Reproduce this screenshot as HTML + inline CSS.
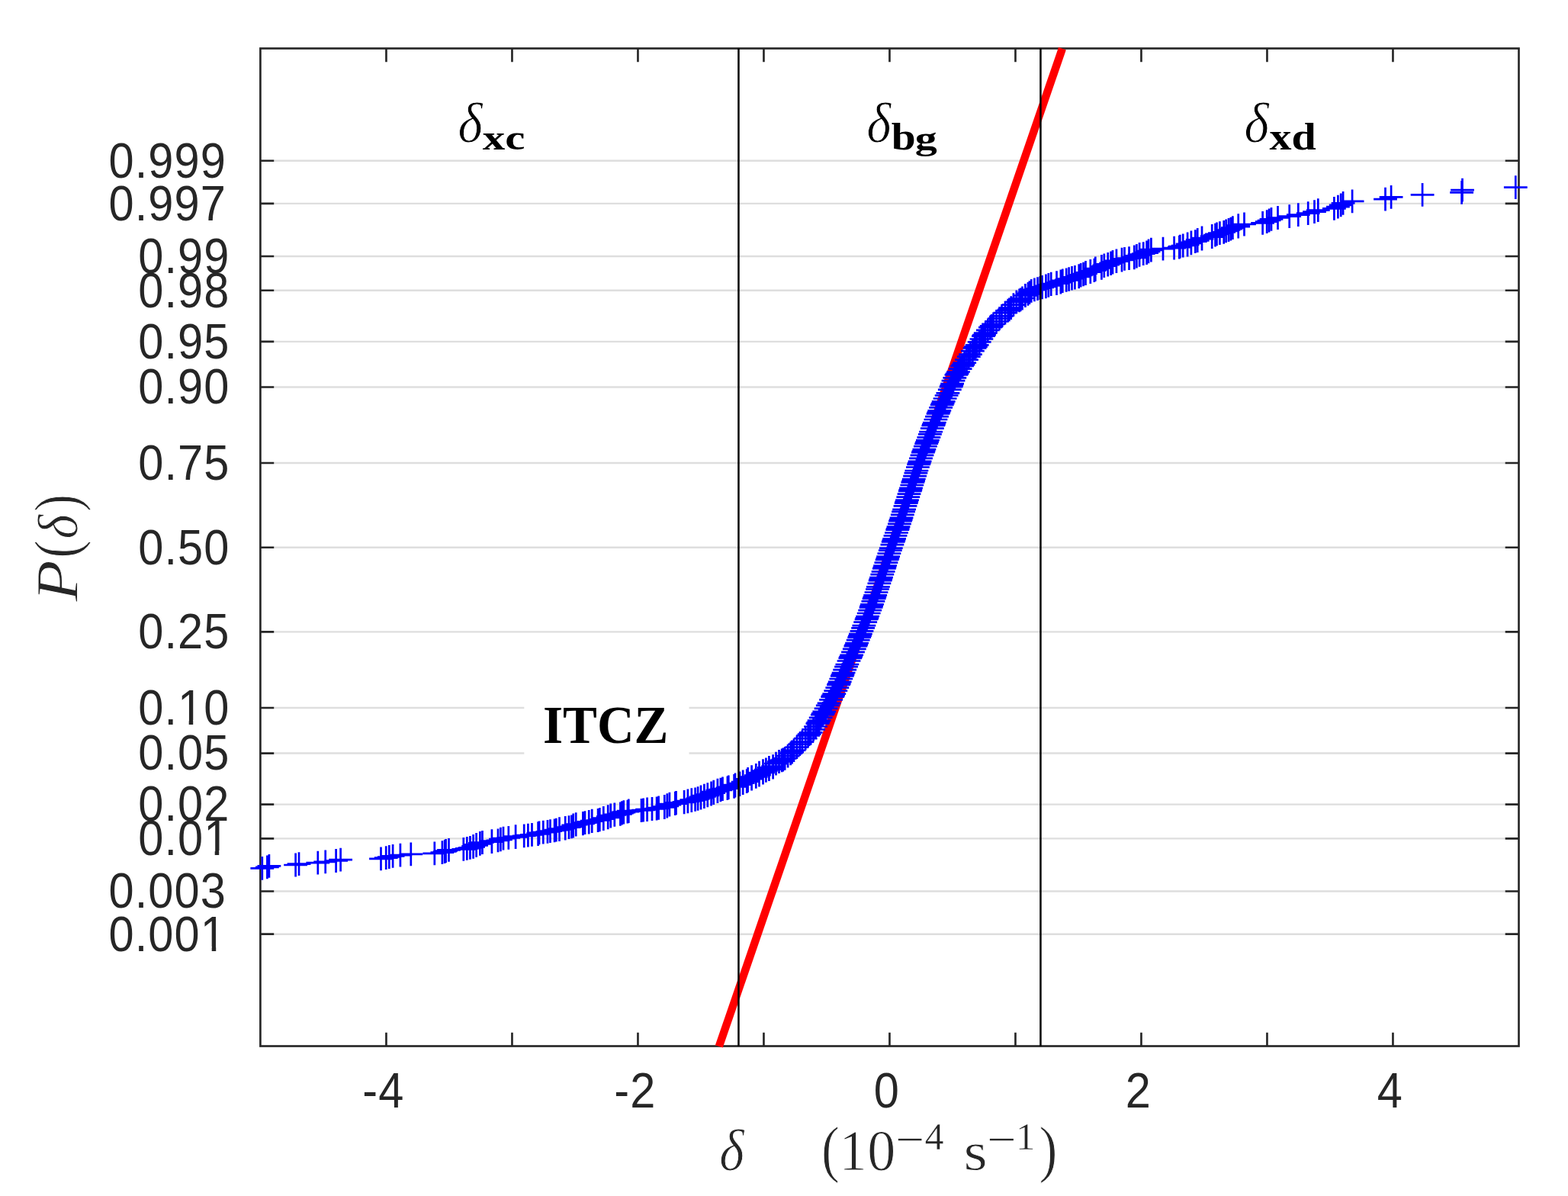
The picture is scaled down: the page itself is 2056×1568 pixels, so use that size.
<!DOCTYPE html>
<html lang="en"><head><meta charset="utf-8"><title>Probability plot</title>
<style>
html,body{margin:0;padding:0;background:#fff;}
body{width:2056px;height:1568px;overflow:hidden;}
svg{display:block;}
.tk{font-family:"Liberation Sans",Arial,Helvetica,sans-serif;font-size:64.00px;fill:#262626;}
.sr{font-family:"Liberation Serif","DejaVu Serif",serif;fill:#000;}
.ax{stroke:#262626;stroke-width:2.65;fill:none;}
.gr{stroke:#dedede;stroke-width:2.40;fill:none;}
</style></head><body>
<svg width="2056" height="1568" viewBox="0 0 2056 1568" role="img" aria-label="Normal probability plot of divergence">
<rect x="0" y="0" width="2056" height="1568" fill="#ffffff"/>
<path class="gr" d="M341.40 1224.68H1991.50M341.40 1168.50H1991.50M341.40 1099.36H1991.50M341.40 1054.64H1991.50M341.40 987.55H1991.50M341.40 927.95H1991.50M341.40 828.36H1991.50M341.40 717.70H1991.50M341.40 607.04H1991.50M341.40 507.45H1991.50M341.40 447.85H1991.50M341.40 380.76H1991.50M341.40 336.04H1991.50M341.40 266.90H1991.50M341.40 210.72H1991.50"/>
<rect x="687.3" y="915.0" width="216.2" height="80.0" fill="#ffffff"/>
<rect class="ax" x="341.40" y="63.50" width="1650.10" height="1308.00"/>
<path class="ax" d="M506.45 1371.50v-17.80M506.45 63.50v17.80M671.45 1371.50v-17.80M671.45 63.50v17.80M836.45 1371.50v-17.80M836.45 63.50v17.80M1001.45 1371.50v-17.80M1001.45 63.50v17.80M1166.45 1371.50v-17.80M1166.45 63.50v17.80M1331.45 1371.50v-17.80M1331.45 63.50v17.80M1496.45 1371.50v-17.80M1496.45 63.50v17.80M1661.45 1371.50v-17.80M1661.45 63.50v17.80M1826.45 1371.50v-17.80M1826.45 63.50v17.80M341.40 1224.68h17.80M1991.50 1224.68h-17.80M341.40 1168.50h17.80M1991.50 1168.50h-17.80M341.40 1099.36h17.80M1991.50 1099.36h-17.80M341.40 1054.64h17.80M1991.50 1054.64h-17.80M341.40 987.55h17.80M1991.50 987.55h-17.80M341.40 927.95h17.80M1991.50 927.95h-17.80M341.40 828.36h17.80M1991.50 828.36h-17.80M341.40 717.70h17.80M1991.50 717.70h-17.80M341.40 607.04h17.80M1991.50 607.04h-17.80M341.40 507.45h17.80M1991.50 507.45h-17.80M341.40 447.85h17.80M1991.50 447.85h-17.80M341.40 380.76h17.80M1991.50 380.76h-17.80M341.40 336.04h17.80M1991.50 336.04h-17.80M341.40 266.90h17.80M1991.50 266.90h-17.80M341.40 210.72h17.80M1991.50 210.72h-17.80"/>
<line x1="942.8" y1="1371.9" x2="1392.9" y2="63.7" stroke="#ff0000" stroke-width="10.4"/>
<path d="M328.4 1138.4h30.8M343.8 1123.0v30.8M335.0 1136.9h30.8M350.4 1121.5v30.8M337.5 1135.4h30.8M352.9 1120.0v30.8M372.2 1134.0h30.8M387.6 1118.6v30.8M376.6 1132.6h30.8M392.0 1117.2v30.8M401.4 1131.2h30.8M416.8 1115.8v30.8M411.3 1129.8h30.8M426.7 1114.4v30.8M425.2 1128.5h30.8M440.6 1113.1v30.8M431.2 1127.2h30.8M446.6 1111.8v30.8M484.1 1125.9h30.8M499.5 1110.5v30.8M490.8 1124.7h30.8M506.2 1109.3v30.8M494.9 1123.5h30.8M510.3 1108.1v30.8M499.7 1122.3h30.8M515.1 1106.9v30.8M509.5 1121.1h30.8M524.9 1105.7v30.8M523.4 1119.9h30.8M538.8 1104.5v30.8M554.4 1118.8h30.8M569.8 1103.4v30.8M564.5 1117.6h30.8M579.9 1102.2v30.8M567.8 1116.5h30.8M583.2 1101.1v30.8M569.2 1115.5h30.8M584.6 1100.1v30.8M573.1 1114.4h30.8M588.5 1099.0v30.8M592.4 1113.3h30.8M607.8 1097.9v30.8M596.9 1112.3h30.8M612.3 1096.9v30.8M601.0 1111.3h30.8M616.4 1095.9v30.8M605.2 1110.3h30.8M620.6 1094.9v30.8M605.2 1109.3h30.8M620.6 1093.9v30.8M609.2 1108.3h30.8M624.6 1092.9v30.8M609.2 1107.3h30.8M624.6 1091.9v30.8M614.0 1106.4h30.8M629.4 1091.0v30.8M614.0 1105.4h30.8M629.4 1090.0v30.8M617.1 1104.5h30.8M632.5 1089.1v30.8M629.5 1103.6h30.8M644.9 1088.2v30.8M629.5 1102.7h30.8M644.9 1087.3v30.8M637.6 1101.8h30.8M653.0 1086.4v30.8M641.0 1100.9h30.8M656.4 1085.5v30.8M641.0 1100.1h30.8M656.4 1084.7v30.8M644.6 1099.2h30.8M660.0 1083.8v30.8M651.4 1098.4h30.8M666.8 1083.0v30.8M660.7 1097.5h30.8M676.1 1082.1v30.8M660.7 1096.7h30.8M676.1 1081.3v30.8M671.8 1095.9h30.8M687.2 1080.5v30.8M677.0 1095.1h30.8M692.4 1079.7v30.8M682.1 1094.3h30.8M697.5 1078.9v30.8M690.2 1093.5h30.8M705.6 1078.1v30.8M690.2 1092.7h30.8M705.6 1077.3v30.8M691.6 1091.9h30.8M707.0 1076.5v30.8M696.9 1091.2h30.8M712.3 1075.8v30.8M702.6 1090.4h30.8M718.0 1075.0v30.8M706.1 1089.7h30.8M721.5 1074.3v30.8M711.7 1088.9h30.8M727.1 1073.5v30.8M713.9 1088.2h30.8M729.3 1072.8v30.8M718.1 1087.5h30.8M733.5 1072.1v30.8M718.1 1086.7h30.8M733.5 1071.3v30.8M725.8 1086.0h30.8M741.2 1070.6v30.8M725.8 1085.3h30.8M741.2 1069.9v30.8M730.6 1084.6h30.8M746.0 1069.2v30.8M734.1 1083.9h30.8M749.5 1068.5v30.8M736.3 1083.2h30.8M751.7 1067.8v30.8M736.3 1082.6h30.8M751.7 1067.2v30.8M736.3 1081.9h30.8M751.7 1066.5v30.8M739.8 1081.2h30.8M755.2 1065.8v30.8M739.8 1080.6h30.8M755.2 1065.2v30.8M749.0 1079.9h30.8M764.4 1064.5v30.8M749.0 1079.3h30.8M764.4 1063.9v30.8M751.6 1078.6h30.8M767.0 1063.2v30.8M756.8 1078.0h30.8M772.2 1062.6v30.8M756.8 1077.3h30.8M772.2 1061.9v30.8M760.8 1076.7h30.8M776.2 1061.3v30.8M760.8 1076.1h30.8M776.2 1060.7v30.8M768.7 1075.5h30.8M784.1 1060.1v30.8M770.9 1074.9h30.8M786.3 1059.5v30.8M770.9 1074.3h30.8M786.3 1058.9v30.8M775.9 1073.7h30.8M791.3 1058.3v30.8M775.9 1073.1h30.8M791.3 1057.7v30.8M775.9 1072.5h30.8M791.3 1057.1v30.8M781.8 1071.9h30.8M797.2 1056.5v30.8M781.8 1071.3h30.8M797.2 1055.9v30.8M781.8 1070.7h30.8M797.2 1055.3v30.8M785.3 1070.1h30.8M800.7 1054.7v30.8M785.3 1069.6h30.8M800.7 1054.2v30.8M785.3 1069.0h30.8M800.7 1053.6v30.8M790.4 1068.4h30.8M805.8 1053.0v30.8M790.4 1067.9h30.8M805.8 1052.5v30.8M798.0 1067.3h30.8M813.4 1051.9v30.8M798.0 1066.8h30.8M813.4 1051.4v30.8M800.1 1066.2h30.8M815.5 1050.8v30.8M800.1 1065.7h30.8M815.5 1050.3v30.8M802.4 1065.1h30.8M817.8 1049.7v30.8M802.4 1064.6h30.8M817.8 1049.2v30.8M807.5 1064.1h30.8M822.9 1048.7v30.8M808.9 1063.5h30.8M824.3 1048.1v30.8M808.9 1063.0h30.8M824.3 1047.6v30.8M825.6 1062.5h30.8M841.0 1047.1v30.8M828.2 1062.0h30.8M843.6 1046.6v30.8M833.2 1061.5h30.8M848.6 1046.1v30.8M833.2 1061.0h30.8M848.6 1045.6v30.8M839.6 1060.5h30.8M855.0 1045.1v30.8M845.7 1060.0h30.8M861.1 1044.6v30.8M848.2 1059.4h30.8M863.6 1044.0v30.8M848.2 1059.0h30.8M863.6 1043.6v30.8M855.9 1058.5h30.8M871.3 1043.1v30.8M855.9 1058.0h30.8M871.3 1042.6v30.8M855.9 1057.5h30.8M871.3 1042.1v30.8M859.4 1057.0h30.8M874.8 1041.6v30.8M859.4 1056.5h30.8M874.8 1041.1v30.8M859.4 1056.0h30.8M874.8 1040.6v30.8M859.4 1055.6h30.8M874.8 1040.2v30.8M862.5 1055.1h30.8M877.9 1039.7v30.8M862.5 1054.6h30.8M877.9 1039.2v30.8M862.5 1054.1h30.8M877.9 1038.7v30.8M869.9 1053.7h30.8M885.3 1038.3v30.8M869.9 1053.2h30.8M885.3 1037.8v30.8M871.1 1052.8h30.8M886.5 1037.4v30.8M871.1 1052.3h30.8M886.5 1036.9v30.8M881.7 1051.8h30.8M897.1 1036.4v30.8M881.7 1051.4h30.8M897.1 1036.0v30.8M886.5 1050.9h30.8M901.9 1035.5v30.8M886.5 1050.5h30.8M901.9 1035.1v30.8M886.5 1050.0h30.8M901.9 1034.6v30.8M891.4 1049.6h30.8M906.8 1034.2v30.8M891.4 1049.2h30.8M906.8 1033.8v30.8M891.4 1048.7h30.8M906.8 1033.3v30.8M896.2 1048.3h30.8M911.6 1032.9v30.8M896.2 1047.9h30.8M911.6 1032.5v30.8M899.7 1047.4h30.8M915.1 1032.0v30.8M899.7 1047.0h30.8M915.1 1031.6v30.8M899.7 1046.6h30.8M915.1 1031.2v30.8M903.6 1046.1h30.8M919.0 1030.7v30.8M903.6 1045.7h30.8M919.0 1030.3v30.8M903.6 1045.3h30.8M919.0 1029.9v30.8M903.6 1044.9h30.8M919.0 1029.5v30.8M908.0 1044.5h30.8M923.4 1029.1v30.8M908.0 1044.1h30.8M923.4 1028.7v30.8M908.0 1043.6h30.8M923.4 1028.2v30.8M908.0 1043.2h30.8M923.4 1027.8v30.8M912.4 1042.8h30.8M927.8 1027.4v30.8M912.4 1042.4h30.8M927.8 1027.0v30.8M912.4 1042.0h30.8M927.8 1026.6v30.8M912.4 1041.6h30.8M927.8 1026.2v30.8M917.2 1041.2h30.8M932.6 1025.8v30.8M917.2 1040.8h30.8M932.6 1025.4v30.8M917.2 1040.4h30.8M932.6 1025.0v30.8M917.2 1040.0h30.8M932.6 1024.6v30.8M920.3 1039.6h30.8M935.7 1024.2v30.8M920.3 1039.2h30.8M935.7 1023.8v30.8M920.3 1038.9h30.8M935.7 1023.5v30.8M920.3 1038.5h30.8M935.7 1023.1v30.8M920.3 1038.1h30.8M935.7 1022.7v30.8M925.5 1037.7h30.8M940.9 1022.3v30.8M925.5 1037.3h30.8M940.9 1021.9v30.8M925.5 1036.9h30.8M940.9 1021.5v30.8M925.5 1036.6h30.8M940.9 1021.2v30.8M925.5 1036.2h30.8M940.9 1020.8v30.8M929.5 1035.8h30.8M944.9 1020.4v30.8M929.5 1035.4h30.8M944.9 1020.0v30.8M929.5 1035.1h30.8M944.9 1019.7v30.8M932.1 1034.7h30.8M947.5 1019.3v30.8M932.1 1034.3h30.8M947.5 1018.9v30.8M932.1 1034.0h30.8M947.5 1018.6v30.8M938.5 1033.6h30.8M953.9 1018.2v30.8M938.5 1033.2h30.8M953.9 1017.8v30.8M938.5 1032.9h30.8M953.9 1017.5v30.8M939.9 1032.5h30.8M955.3 1017.1v30.8M939.9 1032.2h30.8M955.3 1016.8v30.8M939.9 1031.8h30.8M955.3 1016.4v30.8M947.2 1031.4h30.8M962.6 1016.0v30.8M947.2 1031.1h30.8M962.6 1015.7v30.8M947.2 1030.7h30.8M962.6 1015.3v30.8M947.2 1030.4h30.8M962.6 1015.0v30.8M948.6 1030.0h30.8M964.0 1014.6v30.8M948.6 1029.7h30.8M964.0 1014.3v30.8M948.6 1029.3h30.8M964.0 1013.9v30.8M948.6 1029.0h30.8M964.0 1013.6v30.8M954.6 1028.7h30.8M970.0 1013.3v30.8M954.6 1028.3h30.8M970.0 1012.9v30.8M954.6 1028.0h30.8M970.0 1012.6v30.8M954.6 1027.6h30.8M970.0 1012.2v30.8M954.6 1027.3h30.8M970.0 1011.9v30.8M954.6 1027.0h30.8M970.0 1011.6v30.8M958.8 1026.6h30.8M974.2 1011.2v30.8M958.8 1026.3h30.8M974.2 1010.9v30.8M958.8 1025.9h30.8M974.2 1010.5v30.8M958.8 1025.6h30.8M974.2 1010.2v30.8M958.8 1025.3h30.8M974.2 1009.9v30.8M958.8 1025.0h30.8M974.2 1009.6v30.8M963.8 1024.6h30.8M979.2 1009.2v30.8M963.8 1024.3h30.8M979.2 1008.9v30.8M963.8 1024.0h30.8M979.2 1008.6v30.8M963.8 1023.6h30.8M979.2 1008.2v30.8M965.2 1023.3h30.8M980.6 1007.9v30.8M965.2 1023.0h30.8M980.6 1007.6v30.8M965.2 1022.7h30.8M980.6 1007.3v30.8M965.2 1022.4h30.8M980.6 1007.0v30.8M965.2 1022.0h30.8M980.6 1006.6v30.8M965.2 1021.7h30.8M980.6 1006.3v30.8M965.2 1021.4h30.8M980.6 1006.0v30.8M970.2 1021.1h30.8M985.6 1005.7v30.8M970.2 1020.8h30.8M985.6 1005.4v30.8M970.2 1020.5h30.8M985.6 1005.1v30.8M970.2 1020.1h30.8M985.6 1004.7v30.8M970.2 1019.8h30.8M985.6 1004.4v30.8M970.2 1019.5h30.8M985.6 1004.1v30.8M970.2 1019.2h30.8M985.6 1003.8v30.8M970.2 1018.9h30.8M985.6 1003.5v30.8M970.2 1018.6h30.8M985.6 1003.2v30.8M975.9 1018.3h30.8M991.3 1002.9v30.8M975.9 1018.0h30.8M991.3 1002.6v30.8M975.9 1017.7h30.8M991.3 1002.3v30.8M975.9 1017.4h30.8M991.3 1002.0v30.8M975.9 1017.1h30.8M991.3 1001.7v30.8M975.9 1016.8h30.8M991.3 1001.4v30.8M975.9 1016.5h30.8M991.3 1001.1v30.8M980.1 1016.2h30.8M995.5 1000.8v30.8M980.1 1015.9h30.8M995.5 1000.5v30.8M980.1 1015.6h30.8M995.5 1000.2v30.8M980.1 1015.3h30.8M995.5 999.9v30.8M980.1 1015.0h30.8M995.5 999.6v30.8M980.1 1014.7h30.8M995.5 999.3v30.8M980.1 1014.4h30.8M995.5 999.0v30.8M980.1 1014.1h30.8M995.5 998.7v30.8M980.1 1013.8h30.8M995.5 998.4v30.8M980.1 1013.5h30.8M995.5 998.1v30.8M980.1 1013.2h30.8M995.5 997.8v30.8M985.1 1013.0h30.8M1000.5 997.6v30.8M985.1 1012.7h30.8M1000.5 997.3v30.8M985.1 1012.4h30.8M1000.5 997.0v30.8M985.1 1012.1h30.8M1000.5 996.7v30.8M985.1 1011.8h30.8M1000.5 996.4v30.8M985.1 1011.5h30.8M1000.5 996.1v30.8M985.1 1011.2h30.8M1000.5 995.8v30.8M985.1 1011.0h30.8M1000.5 995.6v30.8M985.1 1010.7h30.8M1000.5 995.3v30.8M989.0 1010.4h30.8M1004.4 995.0v30.8M989.0 1010.1h30.8M1004.4 994.7v30.8M989.0 1009.8h30.8M1004.4 994.4v30.8M989.0 1009.6h30.8M1004.4 994.2v30.8M989.0 1009.3h30.8M1004.4 993.9v30.8M989.0 1009.0h30.8M1004.4 993.6v30.8M993.0 1008.7h30.8M1008.4 993.3v30.8M993.0 1008.5h30.8M1008.4 993.1v30.8M993.0 1008.2h30.8M1008.4 992.8v30.8M993.0 1007.9h30.8M1008.4 992.5v30.8M993.0 1007.6h30.8M1008.4 992.2v30.8M993.0 1007.4h30.8M1008.4 992.0v30.8M993.0 1007.1h30.8M1008.4 991.7v30.8M993.0 1006.8h30.8M1008.4 991.4v30.8M993.0 1006.6h30.8M1008.4 991.2v30.8M993.0 1006.3h30.8M1008.4 990.9v30.8M998.2 1006.0h30.8M1013.6 990.6v30.8M998.2 1005.8h30.8M1013.6 990.4v30.8M998.2 1005.5h30.8M1013.6 990.1v30.8M998.2 1005.2h30.8M1013.6 989.8v30.8M998.2 1005.0h30.8M1013.6 989.6v30.8M998.2 1004.7h30.8M1013.6 989.3v30.8M1002.1 1001.1h30.8M1017.5 985.7v30.8M1006.1 998.5h30.8M1021.5 983.1v30.8M1009.8 996.8h30.8M1025.2 981.4v30.8M1011.4 996.0h30.8M1026.8 980.6v30.8M1013.8 994.4h30.8M1029.2 979.0v30.8M1017.7 991.2h30.8M1033.1 975.8v30.8M1021.3 987.9h30.8M1036.7 972.5v30.8M1023.2 986.0h30.8M1038.6 970.6v30.8M1025.6 983.6h30.8M1041.0 968.2v30.8M1029.5 979.7h30.8M1044.9 964.3v30.8M1033.4 975.7h30.8M1048.8 960.3v30.8M1036.5 972.6h30.8M1051.9 957.2v30.8M1040.8 968.1h30.8M1056.2 952.7v30.8M1044.2 964.4h30.8M1059.6 949.0v30.8M1045.7 962.7h30.8M1061.1 947.3v30.8M1047.8 960.4h30.8M1063.2 945.0v30.8M1051.2 956.4h30.8M1066.6 941.0v30.8M1054.1 952.5h30.8M1069.5 937.1v30.8M1056.5 948.7h30.8M1071.9 933.3v30.8M1057.4 947.1h30.8M1072.8 931.7v30.8M1058.7 944.7h30.8M1074.1 929.3v30.8M1060.8 940.8h30.8M1076.2 925.4v30.8M1062.9 937.2h30.8M1078.3 921.8v30.8M1064.0 935.3h30.8M1079.4 919.9v30.8M1065.4 932.8h30.8M1080.8 917.4v30.8M1067.7 928.9h30.8M1083.1 913.5v30.8M1069.9 924.9h30.8M1085.3 909.5v30.8M1071.7 921.8h30.8M1087.1 906.4v30.8M1074.2 917.3h30.8M1089.6 901.9v30.8M1076.3 913.6h30.8M1091.7 898.2v30.8M1077.1 911.9h30.8M1092.5 896.5v30.8M1078.4 909.6h30.8M1093.8 894.2v30.8M1080.4 905.6h30.8M1095.8 890.2v30.8M1082.4 901.7h30.8M1097.8 886.3v30.8M1084.1 897.9h30.8M1099.5 882.5v30.8M1084.8 896.3h30.8M1100.2 880.9v30.8M1085.8 893.9h30.8M1101.2 878.5v30.8M1087.4 890.0h30.8M1102.8 874.6v30.8M1088.9 886.4h30.8M1104.3 871.0v30.8M1089.6 884.5h30.8M1105.0 869.1v30.8M1090.7 882.0h30.8M1106.1 866.6v30.8M1092.3 878.1h30.8M1107.7 862.7v30.8M1094.1 874.1h30.8M1109.5 858.7v30.8M1095.5 871.0h30.8M1110.9 855.6v30.8M1097.6 866.5h30.8M1113.0 851.1v30.8M1099.4 862.8h30.8M1114.8 847.4v30.8M1100.2 861.1h30.8M1115.6 845.7v30.8M1101.3 858.8h30.8M1116.7 843.4v30.8M1103.1 854.8h30.8M1118.5 839.4v30.8M1104.9 850.9h30.8M1120.3 835.5v30.8M1106.5 847.1h30.8M1121.9 831.7v30.8M1107.2 845.5h30.8M1122.6 830.1v30.8M1108.2 843.1h30.8M1123.6 827.7v30.8M1109.8 839.2h30.8M1125.2 823.8v30.8M1111.3 835.6h30.8M1126.7 820.2v30.8M1112.1 833.7h30.8M1127.5 818.3v30.8M1113.0 831.2h30.8M1128.4 815.8v30.8M1114.6 827.3h30.8M1130.0 811.9v30.8M1116.2 823.3h30.8M1131.6 807.9v30.8M1117.5 820.2h30.8M1132.9 804.8v30.8M1119.3 815.7h30.8M1134.7 800.3v30.8M1120.7 812.0h30.8M1136.1 796.6v30.8M1121.4 810.3h30.8M1136.8 794.9v30.8M1122.3 808.0h30.8M1137.7 792.6v30.8M1123.8 804.0h30.8M1139.2 788.6v30.8M1125.3 800.1h30.8M1140.7 784.7v30.8M1126.7 796.3h30.8M1142.1 780.9v30.8M1127.2 794.7h30.8M1142.6 779.3v30.8M1128.1 792.3h30.8M1143.5 776.9v30.8M1129.5 788.4h30.8M1144.9 773.0v30.8M1130.7 784.8h30.8M1146.1 769.4v30.8M1131.4 782.9h30.8M1146.8 767.5v30.8M1132.3 780.4h30.8M1147.7 765.0v30.8M1133.6 776.5h30.8M1149.0 761.1v30.8M1135.0 772.5h30.8M1150.4 757.1v30.8M1136.0 769.4h30.8M1151.4 754.0v30.8M1137.5 764.9h30.8M1152.9 749.5v30.8M1138.8 761.2h30.8M1154.2 745.8v30.8M1139.3 759.5h30.8M1154.7 744.1v30.8M1140.1 757.2h30.8M1155.5 741.8v30.8M1141.4 753.2h30.8M1156.8 737.8v30.8M1142.7 749.3h30.8M1158.1 733.9v30.8M1143.9 745.5h30.8M1159.3 730.1v30.8M1144.5 743.9h30.8M1159.9 728.5v30.8M1145.2 741.5h30.8M1160.6 726.1v30.8M1146.5 737.6h30.8M1161.9 722.2v30.8M1147.7 734.0h30.8M1163.1 718.6v30.8M1148.4 732.1h30.8M1163.8 716.7v30.8M1149.2 729.6h30.8M1164.6 714.2v30.8M1150.5 725.7h30.8M1165.9 710.3v30.8M1151.9 721.7h30.8M1167.3 706.3v30.8M1152.9 718.6h30.8M1168.3 703.2v30.8M1154.5 714.1h30.8M1169.9 698.7v30.8M1155.8 710.4h30.8M1171.2 695.0v30.8M1156.4 708.7h30.8M1171.8 693.3v30.8M1157.2 706.4h30.8M1172.6 691.0v30.8M1158.6 702.4h30.8M1174.0 687.0v30.8M1160.0 698.5h30.8M1175.4 683.1v30.8M1161.3 694.7h30.8M1176.7 679.3v30.8M1161.8 693.1h30.8M1177.2 677.7v30.8M1162.6 690.7h30.8M1178.0 675.3v30.8M1164.0 686.8h30.8M1179.4 671.4v30.8M1165.1 683.2h30.8M1180.5 667.8v30.8M1165.8 681.3h30.8M1181.2 665.9v30.8M1166.6 678.8h30.8M1182.0 663.4v30.8M1167.9 674.9h30.8M1183.3 659.5v30.8M1169.1 670.9h30.8M1184.5 655.5v30.8M1170.2 667.8h30.8M1185.6 652.4v30.8M1171.6 663.3h30.8M1187.0 647.9v30.8M1172.8 659.6h30.8M1188.2 644.2v30.8M1173.3 657.9h30.8M1188.7 642.5v30.8M1174.1 655.6h30.8M1189.5 640.2v30.8M1175.4 651.6h30.8M1190.8 636.2v30.8M1176.6 647.7h30.8M1192.0 632.3v30.8M1177.9 643.9h30.8M1193.3 628.5v30.8M1178.4 642.3h30.8M1193.8 626.9v30.8M1179.1 639.9h30.8M1194.5 624.5v30.8M1180.4 636.0h30.8M1195.8 620.6v30.8M1181.5 632.4h30.8M1196.9 617.0v30.8M1182.2 630.5h30.8M1197.6 615.1v30.8M1182.9 628.0h30.8M1198.3 612.6v30.8M1184.2 624.1h30.8M1199.6 608.7v30.8M1185.5 620.1h30.8M1200.9 604.7v30.8M1186.5 617.0h30.8M1201.9 601.6v30.8M1188.0 612.5h30.8M1203.4 597.1v30.8M1189.3 608.8h30.8M1204.7 593.4v30.8M1189.9 607.1h30.8M1205.3 591.7v30.8M1190.7 604.8h30.8M1206.1 589.4v30.8M1192.1 600.8h30.8M1207.5 585.4v30.8M1193.6 596.9h30.8M1209.0 581.5v30.8M1195.0 593.1h30.8M1210.4 577.7v30.8M1195.6 591.5h30.8M1211.0 576.1v30.8M1196.5 589.1h30.8M1211.9 573.7v30.8M1198.0 585.2h30.8M1213.4 569.8v30.8M1199.3 581.6h30.8M1214.7 566.2v30.8M1200.1 579.7h30.8M1215.5 564.3v30.8M1201.0 577.2h30.8M1216.4 561.8v30.8M1202.5 573.3h30.8M1217.9 557.9v30.8M1204.0 569.3h30.8M1219.4 553.9v30.8M1205.2 566.2h30.8M1220.6 550.8v30.8M1206.9 561.7h30.8M1222.3 546.3v30.8M1208.4 558.0h30.8M1223.8 542.6v30.8M1209.0 556.3h30.8M1224.4 540.9v30.8M1209.9 554.0h30.8M1225.3 538.6v30.8M1211.5 550.0h30.8M1226.9 534.6v30.8M1213.1 546.1h30.8M1228.5 530.7v30.8M1214.7 542.3h30.8M1230.1 526.9v30.8M1215.4 540.7h30.8M1230.8 525.3v30.8M1216.4 538.3h30.8M1231.8 522.9v30.8M1218.2 534.4h30.8M1233.6 519.0v30.8M1219.8 530.8h30.8M1235.2 515.4v30.8M1220.7 528.9h30.8M1236.1 513.5v30.8M1221.8 526.4h30.8M1237.2 511.0v30.8M1223.7 522.5h30.8M1239.1 507.1v30.8M1225.7 518.5h30.8M1241.1 503.1v30.8M1227.5 515.4h30.8M1242.9 500.0v30.8M1229.9 510.9h30.8M1245.3 495.5v30.8M1231.7 507.2h30.8M1247.1 491.8v30.8M1232.3 505.5h30.8M1247.7 490.1v30.8M1233.2 503.2h30.8M1248.6 487.8v30.8M1234.6 499.2h30.8M1250.0 483.8v30.8M1236.4 495.3h30.8M1251.8 479.9v30.8M1238.5 491.5h30.8M1253.9 476.1v30.8M1239.6 489.9h30.8M1255.0 474.5v30.8M1241.1 487.5h30.8M1256.5 472.1v30.8M1243.7 483.6h30.8M1259.1 468.2v30.8M1246.1 480.0h30.8M1261.5 464.6v30.8M1247.5 478.1h30.8M1262.9 462.7v30.8M1249.3 475.6h30.8M1264.7 460.2v30.8M1252.1 471.7h30.8M1267.5 456.3v30.8M1254.9 467.7h30.8M1270.3 452.3v30.8M1257.0 464.6h30.8M1272.4 449.2v30.8M1260.0 460.1h30.8M1275.4 444.7v30.8M1262.7 456.4h30.8M1278.1 441.0v30.8M1264.0 454.7h30.8M1279.4 439.3v30.8M1265.8 452.4h30.8M1281.2 437.0v30.8M1268.8 448.4h30.8M1284.2 433.0v30.8M1271.5 444.5h30.8M1286.9 429.1v30.8M1274.0 440.7h30.8M1289.4 425.3v30.8M1275.1 439.1h30.8M1290.5 423.7v30.8M1276.8 436.7h30.8M1292.2 421.3v30.8M1279.9 432.8h30.8M1295.3 417.4v30.8M1283.0 429.2h30.8M1298.4 413.8v30.8M1284.8 427.3h30.8M1300.2 411.9v30.8M1287.2 424.9h30.8M1302.6 409.5v30.8M1291.1 421.3h30.8M1306.5 405.9v30.8M1295.1 417.6h30.8M1310.5 402.2v30.8M1298.1 414.4h30.8M1313.5 399.0v30.8M1302.6 410.2h30.8M1318.0 394.8v30.8M1306.3 407.2h30.8M1321.7 391.8v30.8M1308.0 405.8h30.8M1323.4 390.4v30.8M1310.3 403.6h30.8M1325.7 388.2v30.8M1313.5 399.6h30.8M1328.9 384.2v30.8M1317.4 395.9h30.8M1332.8 380.5v30.8M1321.2 393.8h30.8M1336.6 378.4v30.8M1322.8 392.8h30.8M1338.2 377.4v30.8M1325.1 391.0h30.8M1340.5 375.6v30.8M1329.0 387.5h30.8M1344.4 372.1v30.8M1332.6 385.3h30.8M1348.0 369.9v30.8M1334.5 383.6h30.8M1349.9 368.2v30.8M1336.9 381.4h30.8M1352.3 366.0v30.8M1341.0 379.8h30.8M1356.4 364.4v30.8M1345.1 378.6h30.8M1360.5 363.2v30.8M1348.3 377.7h30.8M1363.7 362.3v30.8M1971.9 245.6h30.8M1987.3 230.2v30.8M1902.1 249.1h30.8M1917.5 233.7v30.8M1901.2 252.3h30.8M1916.6 236.9v30.8M1849.7 255.4h30.8M1865.1 240.0v30.8M1808.7 258.3h30.8M1824.1 242.9v30.8M1801.1 261.1h30.8M1816.5 245.7v30.8M1757.7 263.8h30.8M1773.1 248.4v30.8M1745.7 266.4h30.8M1761.1 251.0v30.8M1742.8 268.8h30.8M1758.2 253.4v30.8M1739.0 271.2h30.8M1754.4 255.8v30.8M1734.0 273.4h30.8M1749.4 258.0v30.8M1712.9 275.6h30.8M1728.3 260.2v30.8M1708.1 277.7h30.8M1723.5 262.3v30.8M1699.8 279.7h30.8M1715.2 264.3v30.8M1686.9 281.7h30.8M1702.3 266.3v30.8M1675.3 283.6h30.8M1690.7 268.2v30.8M1660.1 285.5h30.8M1675.5 270.1v30.8M1651.6 287.3h30.8M1667.0 271.9v30.8M1648.7 289.0h30.8M1664.1 273.6v30.8M1645.8 290.7h30.8M1661.2 275.3v30.8M1640.2 292.4h30.8M1655.6 277.0v30.8M1616.1 294.0h30.8M1631.5 278.6v30.8M1608.3 295.6h30.8M1623.7 280.2v30.8M1608.3 297.1h30.8M1623.7 281.7v30.8M1601.0 298.6h30.8M1616.4 283.2v30.8M1598.5 300.1h30.8M1613.9 284.7v30.8M1595.6 301.5h30.8M1611.0 286.1v30.8M1592.2 302.9h30.8M1607.6 287.5v30.8M1589.3 304.3h30.8M1604.7 288.9v30.8M1584.0 305.6h30.8M1599.4 290.2v30.8M1580.1 306.9h30.8M1595.5 291.5v30.8M1578.1 308.2h30.8M1593.5 292.8v30.8M1573.8 309.5h30.8M1589.2 294.1v30.8M1573.8 310.7h30.8M1589.2 295.3v30.8M1560.6 312.0h30.8M1576.0 296.6v30.8M1560.6 313.2h30.8M1576.0 297.8v30.8M1554.8 314.3h30.8M1570.2 298.9v30.8M1554.8 315.5h30.8M1570.2 300.1v30.8M1551.9 316.6h30.8M1567.3 301.2v30.8M1546.5 317.8h30.8M1561.9 302.4v30.8M1546.5 318.9h30.8M1561.9 303.5v30.8M1541.7 319.9h30.8M1557.1 304.5v30.8M1541.7 321.0h30.8M1557.1 305.6v30.8M1535.8 322.0h30.8M1551.2 306.6v30.8M1531.9 323.1h30.8M1547.3 307.7v30.8M1530.9 324.1h30.8M1546.3 308.7v30.8M1524.2 325.1h30.8M1539.6 309.7v30.8M1509.6 326.1h30.8M1525.0 310.7v30.8M1494.0 327.1h30.8M1509.4 311.7v30.8M1494.0 328.0h30.8M1509.4 312.6v30.8M1490.6 329.0h30.8M1506.0 313.6v30.8M1490.6 329.9h30.8M1506.0 314.5v30.8M1488.2 330.8h30.8M1503.6 315.4v30.8M1488.2 331.7h30.8M1503.6 316.3v30.8M1483.8 332.6h30.8M1499.2 317.2v30.8M1478.7 333.5h30.8M1494.1 318.1v30.8M1478.7 334.4h30.8M1494.1 319.0v30.8M1475.0 335.3h30.8M1490.4 319.9v30.8M1475.0 336.1h30.8M1490.4 320.7v30.8M1471.9 337.0h30.8M1487.3 321.6v30.8M1471.9 337.8h30.8M1487.3 322.4v30.8M1465.1 338.6h30.8M1480.5 323.2v30.8M1459.1 339.4h30.8M1474.5 324.0v30.8M1455.6 340.2h30.8M1471.0 324.8v30.8M1455.6 341.0h30.8M1471.0 325.6v30.8M1448.5 341.8h30.8M1463.9 326.4v30.8M1448.5 342.6h30.8M1463.9 327.2v30.8M1443.6 343.4h30.8M1459.0 328.0v30.8M1443.6 344.1h30.8M1459.0 328.7v30.8M1441.2 344.9h30.8M1456.6 329.5v30.8M1441.2 345.6h30.8M1456.6 330.2v30.8M1437.3 346.4h30.8M1452.7 331.0v30.8M1437.3 347.1h30.8M1452.7 331.7v30.8M1432.4 347.8h30.8M1447.8 332.4v30.8M1432.4 348.6h30.8M1447.8 333.2v30.8M1429.0 349.3h30.8M1444.4 333.9v30.8M1429.0 350.0h30.8M1444.4 334.6v30.8M1429.0 350.7h30.8M1444.4 335.3v30.8M1429.0 351.4h30.8M1444.4 336.0v30.8M1420.9 352.0h30.8M1436.3 336.6v30.8M1420.9 352.7h30.8M1436.3 337.3v30.8M1420.9 353.4h30.8M1436.3 338.0v30.8M1419.5 354.1h30.8M1434.9 338.7v30.8M1419.5 354.7h30.8M1434.9 339.3v30.8M1414.4 355.4h30.8M1429.8 340.0v30.8M1414.4 356.0h30.8M1429.8 340.6v30.8M1414.4 356.7h30.8M1429.8 341.3v30.8M1408.1 357.3h30.8M1423.5 341.9v30.8M1408.1 357.9h30.8M1423.5 342.5v30.8M1408.1 358.6h30.8M1423.5 343.2v30.8M1405.2 359.2h30.8M1420.6 343.8v30.8M1405.2 359.8h30.8M1420.6 344.4v30.8M1401.8 360.4h30.8M1417.2 345.0v30.8M1401.8 361.0h30.8M1417.2 345.6v30.8M1399.3 361.6h30.8M1414.7 346.2v30.8M1399.3 362.2h30.8M1414.7 346.8v30.8M1399.3 362.8h30.8M1414.7 347.4v30.8M1394.0 363.4h30.8M1409.4 348.0v30.8M1394.0 364.0h30.8M1409.4 348.6v30.8M1390.1 364.5h30.8M1405.5 349.1v30.8M1390.1 365.1h30.8M1405.5 349.7v30.8M1386.2 365.7h30.8M1401.6 350.3v30.8M1386.2 366.3h30.8M1401.6 350.9v30.8M1382.8 366.8h30.8M1398.2 351.4v30.8M1382.8 367.4h30.8M1398.2 352.0v30.8M1377.9 367.9h30.8M1393.3 352.5v30.8M1377.9 368.5h30.8M1393.3 353.1v30.8M1375.5 369.0h30.8M1390.9 353.6v30.8M1375.5 369.6h30.8M1390.9 354.2v30.8M1375.5 370.1h30.8M1390.9 354.7v30.8M1370.1 370.6h30.8M1385.5 355.2v30.8M1370.1 371.2h30.8M1385.5 355.8v30.8M1370.1 371.7h30.8M1385.5 356.3v30.8M1362.8 372.2h30.8M1378.2 356.8v30.8M1362.8 372.7h30.8M1378.2 357.3v30.8M1359.4 373.3h30.8M1374.8 357.9v30.8M1359.4 373.8h30.8M1374.8 358.4v30.8M1359.4 374.3h30.8M1374.8 358.9v30.8M1356.0 374.8h30.8M1371.4 359.4v30.8M1356.0 375.3h30.8M1371.4 359.9v30.8M1356.0 375.8h30.8M1371.4 360.4v30.8M1351.2 376.3h30.8M1366.6 360.9v30.8M1351.2 376.8h30.8M1366.6 361.4v30.8" stroke="#0000ff" stroke-width="2.7" fill="none"/>
<path d="M968.45 63.50V1371.50M1364.45 63.50V1371.50" stroke="#000" stroke-width="2.50" fill="none"/>
<text class="tk" transform="translate(297.00 1246.53) scale(0.9300 1)" text-anchor="end" letter-spacing="1.20">0.001</text>
<text class="tk" transform="translate(297.00 1190.35) scale(0.9300 1)" text-anchor="end" letter-spacing="1.20">0.003</text>
<text class="tk" transform="translate(301.50 1121.21) scale(0.9300 1)" text-anchor="end" letter-spacing="1.20">0.01</text>
<text class="tk" transform="translate(301.50 1076.49) scale(0.9300 1)" text-anchor="end" letter-spacing="1.20">0.02</text>
<text class="tk" transform="translate(301.50 1009.40) scale(0.9300 1)" text-anchor="end" letter-spacing="1.20">0.05</text>
<text class="tk" transform="translate(301.50 949.80) scale(0.9300 1)" text-anchor="end" letter-spacing="1.20">0.10</text>
<text class="tk" transform="translate(301.50 850.21) scale(0.9300 1)" text-anchor="end" letter-spacing="1.20">0.25</text>
<text class="tk" transform="translate(301.50 739.55) scale(0.9300 1)" text-anchor="end" letter-spacing="1.20">0.50</text>
<text class="tk" transform="translate(301.50 628.89) scale(0.9300 1)" text-anchor="end" letter-spacing="1.20">0.75</text>
<text class="tk" transform="translate(301.50 529.30) scale(0.9300 1)" text-anchor="end" letter-spacing="1.20">0.90</text>
<text class="tk" transform="translate(301.50 469.70) scale(0.9300 1)" text-anchor="end" letter-spacing="1.20">0.95</text>
<text class="tk" transform="translate(301.50 402.61) scale(0.9300 1)" text-anchor="end" letter-spacing="1.20">0.98</text>
<text class="tk" transform="translate(301.50 357.89) scale(0.9300 1)" text-anchor="end" letter-spacing="1.20">0.99</text>
<text class="tk" transform="translate(297.00 288.75) scale(0.9300 1)" text-anchor="end" letter-spacing="1.20">0.997</text>
<text class="tk" transform="translate(297.00 232.57) scale(0.9300 1)" text-anchor="end" letter-spacing="1.20">0.999</text>
<text class="tk" transform="translate(502.85 1452.10) scale(0.9300 1)" text-anchor="middle" letter-spacing="1.20">-4</text>
<text class="tk" transform="translate(832.85 1452.10) scale(0.9300 1)" text-anchor="middle" letter-spacing="1.20">-2</text>
<text class="tk" transform="translate(1162.85 1452.10) scale(0.9300 1)" text-anchor="middle" letter-spacing="1.20">0</text>
<text class="tk" transform="translate(1492.85 1452.10) scale(0.9300 1)" text-anchor="middle" letter-spacing="1.20">2</text>
<text class="tk" transform="translate(1822.85 1452.10) scale(0.9300 1)" text-anchor="middle" letter-spacing="1.20">4</text>
<rect x="236.5" y="944.0" width="11.2" height="7.3" fill="#fff"/>
<rect x="253.2" y="944.0" width="11.2" height="7.3" fill="#fff"/>
<rect x="270.5" y="1115.0" width="11.2" height="7.7" fill="#fff"/>
<rect x="287.2" y="1115.0" width="11.2" height="7.7" fill="#fff"/>
<rect x="265.5" y="1241.0" width="12.2" height="7.0" fill="#fff"/>
<rect x="283.2" y="1241.0" width="11.2" height="7.0" fill="#fff"/>
<g>
<text class="sr" transform="translate(600.48 186.03) scale(0.9284 1.0000)" style="font-size:74.53px;font-style:italic;" stroke="#fff" stroke-width="0.89">δ</text>
<text class="sr" transform="translate(632.70 195.63) scale(1.2646 1.0000)" style="font-size:46.67px;font-weight:bold;">xc</text>
</g>
<g>
<text class="sr" transform="translate(1136.51 186.03) scale(0.9161 1.0000)" style="font-size:74.53px;font-style:italic;" stroke="#fff" stroke-width="0.89">δ</text>
<text class="sr" transform="translate(1168.74 195.99) scale(1.1350 1.0000)" style="font-size:50.57px;font-weight:bold;">b</text>
<text class="sr" transform="translate(1199.75 195.88) scale(1.2884 1.0000)" style="font-size:45.07px;font-weight:bold;">g</text>
</g>
<g>
<text class="sr" transform="translate(1631.57 186.03) scale(0.9315 1.0000)" style="font-size:74.53px;font-style:italic;" stroke="#fff" stroke-width="0.89">δ</text>
<text class="sr" transform="translate(1664.41 195.90) scale(1.1498 1.0000)" style="font-size:50.43px;font-weight:bold;">xd</text>
</g>
<g>
<text class="sr" transform="translate(711.95 973.91) scale(0.9773 1.0000)" style="font-size:68.81px;font-weight:bold;">ITCZ</text>
</g>
<g transform="rotate(-90)">
<text class="sr" transform="translate(-788.65 101.29) scale(1.1465 1.0000)" style="font-size:77.97px;font-style:italic;fill:#262626;" stroke="#fff" stroke-width="0.94">P</text>
<text class="sr" transform="translate(-731.73 101.88) scale(0.8654 1.0000)" style="font-size:81.59px;fill:#262626;" stroke="#fff" stroke-width="0.98">(</text>
<text class="sr" transform="translate(-706.40 101.33) scale(0.9138 1.0000)" style="font-size:74.96px;font-style:italic;fill:#262626;" stroke="#fff" stroke-width="0.90">δ</text>
<text class="sr" transform="translate(-670.63 101.88) scale(0.8354 1.0000)" style="font-size:81.59px;fill:#262626;" stroke="#fff" stroke-width="0.98">)</text>
</g>
<g>
<text class="sr" transform="translate(943.36 1533.72) scale(0.9117 1.0000)" style="font-size:76.40px;font-style:italic;fill:#262626;" stroke="#fff" stroke-width="0.92">δ</text>
<text class="sr" transform="translate(1077.03 1534.41) scale(0.8718 1.0000)" style="font-size:81.93px;fill:#262626;" stroke="#fff" stroke-width="0.98">(</text>
<text class="sr" transform="translate(1100.55 1533.68) scale(0.9524 1.0000)" style="font-size:75.66px;fill:#262626;" stroke="#fff" stroke-width="0.91">1</text>
<text class="sr" transform="translate(1137.36 1533.72) scale(0.9748 1.0000)" style="font-size:76.06px;fill:#262626;" stroke="#fff" stroke-width="0.91">0</text>
<text class="sr" transform="translate(1174.21 1510.04) scale(1.3710 1.0000)" style="font-size:48.00px;fill:#262626;">−</text>
<text class="sr" transform="translate(1212.66 1507.26) scale(0.9609 1.0000)" style="font-size:51.69px;fill:#262626;" stroke="#fff" stroke-width="0.41">4</text>
<text class="sr" transform="translate(1263.58 1533.74) scale(1.1171 1.0000)" style="font-size:71.91px;fill:#262626;" stroke="#fff" stroke-width="0.86">s</text>
<text class="sr" transform="translate(1294.37 1510.04) scale(1.3889 1.0000)" style="font-size:48.00px;fill:#262626;">−</text>
<text class="sr" transform="translate(1332.31 1507.26) scale(0.9645 1.0000)" style="font-size:51.69px;fill:#262626;" stroke="#fff" stroke-width="0.41">1</text>
<text class="sr" transform="translate(1362.53 1534.41) scale(0.8768 1.0000)" style="font-size:81.93px;fill:#262626;" stroke="#fff" stroke-width="0.98">)</text>
</g>
</svg>
</body></html>
